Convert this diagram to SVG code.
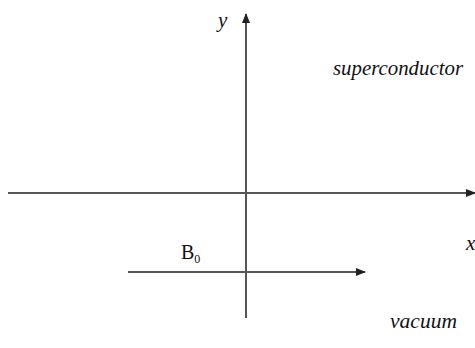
<svg xmlns="http://www.w3.org/2000/svg" width="475" height="348" viewBox="0 0 475 348">
<style>
.ax{stroke:#555;stroke-width:2;fill:none}
.t{font-family:"Liberation Serif",serif;font-style:italic;font-size:21px;fill:#111}
.b{font-family:"Liberation Serif",serif;font-size:20px;fill:#111}
</style>
<defs>
<marker id="ah" markerWidth="10" markerHeight="8" refX="9" refY="4" orient="auto" markerUnits="userSpaceOnUse">
<path d="M0,0 L10,4 L0,8 Z" fill="#222"/>
</marker>
</defs>
<rect width="475" height="348" fill="#fff"/>
<g id="connectors">
<line class="ax" x1="246" y1="318" x2="246" y2="14" marker-end="url(#ah)"/>
<line class="ax" x1="8" y1="193" x2="475" y2="193" marker-end="url(#ah)"/>
<line class="ax" x1="128" y1="272" x2="365" y2="272" marker-end="url(#ah)"/>
</g>
<g id="label-y"><text class="t" x="218" y="27">y</text></g>
<g id="label-x"><text class="t" x="466" y="250">x</text></g>
<g id="label-superconductor"><text class="t" x="333" y="75" textLength="130" lengthAdjust="spacingAndGlyphs">superconductor</text></g>
<g id="label-vacuum"><text class="t" x="390" y="328" textLength="67" lengthAdjust="spacingAndGlyphs">vacuum</text></g>
<g id="label-B0"><text class="b" x="181" y="259">B<tspan font-size="12" dy="4">0</tspan></text></g>
</svg>
